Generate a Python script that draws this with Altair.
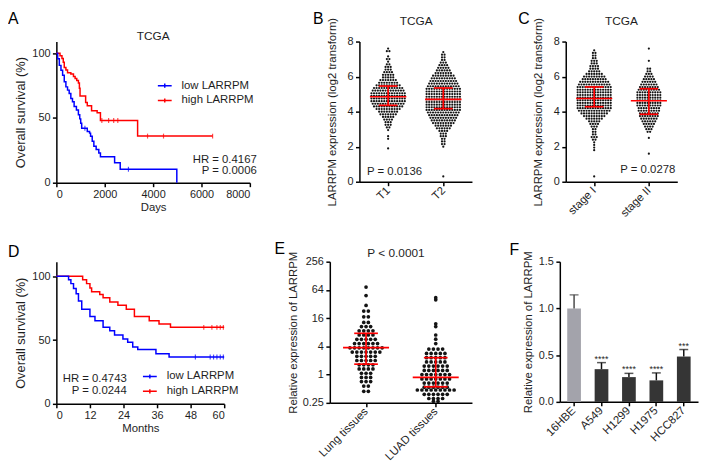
import altair as alt
import pandas as pd

FONT = "Liberation Sans"
TXT = "#1e1e1e"
BLUE = "#0000ff"
RED = "#ff0000"
DOT = "#141414"

groups = ["low LARRPM", "high LARRPM"]

# ---------------- Panel A : TCGA, days ----------------
a_low_days = [0, 54, 122, 190, 258, 326, 394, 462, 530, 598, 666, 734, 829, 911, 966,
              1006, 1047, 1278, 1373, 1414, 1482, 1550, 1645, 1754, 1822, 2408, 2640, 4980]
a_low_surv = [100, 95.7, 90.6, 86.8, 83.0, 77.9, 74.0, 71.5, 68.9, 65.0, 62.6, 58.8, 56.2, 52.4, 49.3,
              46.0, 42.1, 39.6, 38.3, 35.8, 32.0, 28.2, 25.6, 23.0, 20.0, 15.5, 10.4, 0]
a_low_cens_days = [1180, 2980]
a_low_cens_surv = [42.1, 10.4]
a_high_days = [0, 150, 231, 285, 326, 394, 462, 598, 707, 775, 843, 911, 952, 979, 1210,
               1278, 1455, 1686, 1822, 3359, 6460]
a_high_surv = [100, 98, 96, 93, 89, 87, 85, 84, 82, 80.5, 79, 77, 73, 67, 62,
               59.5, 55.5, 54, 48, 36, 36]
a_high_cens_days = [1880, 2160, 2370, 2540, 3770, 4430, 6460]
a_high_cens_surv = [48, 48, 48, 48, 36, 36, 36]
a_stats = ["HR = 0.4167", "P = 0.0006"]
a_xticks = [0, 2000, 4000, 6000, 8000]

# ---------------- Panel D : months ----------------
d_low_months = [0, 4.36, 5.19, 6.13, 7.07, 7.9, 9.07, 12.0, 13.8, 16.7, 19.1, 20.8, 23.8,
                25.5, 27.3, 29.1, 35.6, 40.3, 60]
d_low_surv = [100, 97.4, 94.3, 90.5, 86.3, 80.6, 74.2, 68.5, 65.1, 60.0, 57.4, 54.0, 50.9,
              48.4, 44.5, 42.6, 39.3, 36.7, 36.7]
d_low_cens_months = [49.7, 55.0, 56.2, 57.4, 58.6, 59.7]
d_low_cens_surv = [36.7, 36.7, 36.7, 36.7, 36.7, 36.7]
d_high_months = [0, 9.4, 10.8, 12.0, 12.6, 15.5, 16.7, 19.1, 22.0, 25.0, 27.9, 33.2, 36.7, 40.8, 60]
d_high_surv = [100, 97.4, 94.3, 90.9, 87.9, 85.8, 83.2, 79.9, 77.3, 74.2, 68.5, 65.1, 62.6, 60.0, 60.0]
d_high_cens_months = [52.7, 55.6, 57.4, 58.6, 59.7]
d_high_cens_surv = [60, 60, 60, 60, 60]
d_stats = ["HR = 0.4743", "P = 0.0244"]
d_xticks = [0, 12, 24, 36, 48, 60]

# ---------------- Panel B : T stage (log2 expression, value rows and counts) ----------------
b_cats = ["T1", "T2"]
b_t1_vals = [7.6, 7.45, 7.15, 7.0, 6.85, 6.7, 6.55, 6.4, 6.25, 6.1, 5.95, 5.8, 5.65, 5.5, 5.35, 5.2,
             5.05, 4.9, 4.75, 4.6, 4.45, 4.3, 4.15, 4.0, 3.85, 3.7, 3.55, 3.4, 3.25, 3.1, 2.95, 2.6, 2.45, 1.9]
b_t1_cnts = [1, 2, 1, 2, 1, 2, 3, 3, 4, 5, 5, 7, 8, 10, 12, 13,
             14, 14, 14, 14, 13, 12, 10, 8, 7, 5, 4, 3, 3, 2, 1, 1, 1, 1]
b_t2_vals = [7.4, 7.25, 7.1, 6.95, 6.8, 6.65, 6.5, 6.35, 6.2, 6.05, 5.9, 5.75, 5.6, 5.45, 5.3, 5.15,
             5.0, 4.85, 4.7, 4.55, 4.4, 4.25, 4.1, 3.95, 3.8, 3.65, 3.5, 3.35, 3.2, 3.05, 2.9, 2.75,
             2.6, 2.45, 2.3, 2.15, 2.0, 0.3]
b_t2_cnts = [1, 2, 2, 2, 3, 4, 5, 6, 7, 9, 10, 11, 12, 13, 14, 14,
             14, 14, 14, 14, 14, 14, 14, 13, 12, 11, 10, 9, 7, 6, 4, 3,
             3, 2, 2, 2, 1, 1]
b_median = [4.85, 4.70]
b_lower = [4.36, 4.17]
b_upper = [5.46, 5.35]

# ---------------- Panel C : stage ----------------
c_cats = ["stage I", "stage II"]
c_s1_vals = [7.5, 7.35, 7.2, 7.05, 6.9, 6.75, 6.6, 6.45, 6.3, 6.15, 6.0, 5.85, 5.7, 5.55, 5.4, 5.25,
             5.1, 4.95, 4.8, 4.65, 4.5, 4.35, 4.2, 4.05, 3.9, 3.75, 3.6, 3.45, 3.3, 3.15, 3.0, 2.85,
             2.7, 2.55, 2.4, 2.25, 2.1, 1.95, 1.8, 0.3]
c_s1_cnts = [1, 2, 2, 2, 3, 3, 4, 4, 5, 7, 9, 10, 12, 13, 14, 14,
             14, 14, 14, 14, 14, 14, 14, 13, 11, 9, 7, 5, 4, 3, 2, 2,
             2, 3, 2, 1, 1, 1, 1, 1]
c_s2_vals = [7.6, 6.9, 6.45, 6.3, 6.15, 6.0, 5.85, 5.7, 5.55, 5.4, 5.25, 5.1, 4.95, 4.8, 4.65, 4.5,
             4.35, 4.2, 4.05, 3.9, 3.75, 3.6, 3.45, 3.3, 3.15, 3.0, 2.85, 2.5, 1.6]
c_s2_cnts = [1, 1, 2, 2, 3, 4, 5, 6, 7, 8, 9, 10, 10, 10, 10, 10,
             10, 9, 9, 8, 8, 7, 6, 5, 4, 3, 2, 1, 1]
c_median = [4.75, 4.62]
c_lower = [4.28, 3.85]
c_upper = [5.41, 5.31]

# ---------------- Panel E : tissues (relative expression, rows and counts) ----------------
e_cats = ["Lung tissues", "LUAD tissues"]
e_lung_vals = [73.5, 48.5, 29.9, 22.6, 17.1, 13.0, 10.6, 8.6, 7.0, 5.66, 4.6, 3.73, 3.03, 2.46,
               2.0, 1.62, 1.32, 1.07, 0.87, 0.71, 0.57, 0.44]
e_lung_cnts = [1, 1, 1, 2, 2, 2, 3, 4, 4, 5, 6, 8, 7, 5, 5, 4, 4, 3, 3, 3, 2, 2]
e_luad_vals = [43.7, 39.4, 12.1, 10.6, 7.0, 5.7, 4.6, 3.5, 2.83, 2.3, 1.87, 1.52, 1.23, 1.0,
               0.81, 0.66, 0.54, 0.47, 0.38, 0.31, 0.27]
e_luad_cnts = [1, 1, 1, 1, 1, 1, 1, 4, 5, 5, 5, 6, 6, 7, 7, 6, 6, 9, 6, 4, 2]
e_median = [3.76, 0.87]
e_lower = [1.67, 0.55]
e_upper = [7.6, 2.3]

# ---------------- Panel F : cell lines ----------------
f_cells = ["16HBE", "A549", "H1299", "H1975", "HCC827"]
f_mean = [1.0, 0.35, 0.265, 0.23, 0.485]
f_sem = [0.145, 0.07, 0.04, 0.08, 0.075]
f_stars = ["", "****", "****", "****", "***"]


def panel_label(letter, dx, dy):
    return alt.Chart(pd.DataFrame({"lab": [letter]})).mark_text(
        font=FONT, fontSize=16, align="left", baseline="top", color="#000000"
    ).encode(text="lab:N", x=alt.value(dx), y=alt.value(dy))


def note(lines, dx, dy, align, size=11.5):
    return alt.Chart(pd.DataFrame({"txt": ["\n".join(lines)]})).mark_text(
        font=FONT, fontSize=size, align=align, baseline="alphabetic", lineBreak="\n",
        lineHeight=11.6, color=TXT
    ).encode(text="txt:N", x=alt.value(dx), y=alt.value(dy))


def km_panel(low_t, low_s, high_t, high_s, lct, lcs, hct, hcs, xmax, xticks, xtitle, ymax,
             w, h, legx, legy, stats, sx, sy, letter, lx, ly, title=None, tx=0, ty=0):
    lo = pd.DataFrame({"t": low_t, "s": low_s, "g": groups[0]})
    hi = pd.DataFrame({"t": high_t, "s": high_s, "g": groups[1]})
    xs = alt.Scale(domain=[0, xmax], nice=False, zero=False)
    ys = alt.Scale(domain=[0, ymax], nice=False)
    xa = alt.Axis(values=xticks, format="d", title=xtitle, grid=False, labelPadding=2,
                  titlePadding=2, titleFontSize=11.5)
    ya = alt.Axis(values=[0, 50, 100], title="Overall survival (%)", titleFontSize=13,
                  grid=False, titlePadding=4, labelPadding=2.5)
    cs = alt.Scale(domain=groups, range=[BLUE, RED])
    leg = alt.Legend(title=None, orient="none", legendX=legx, legendY=legy,
                     symbolType="M-1,0H1M0,-0.3V0.3", symbolSize=196, symbolStrokeWidth=1.5,
                     labelFont=FONT, labelFontSize=11.5, labelColor=TXT, labelOffset=9,
                     rowPadding=1, padding=0)

    def X(f):
        return alt.X(f, type="quantitative", scale=xs, axis=xa)

    def Y(f):
        return alt.Y(f, type="quantitative", scale=ys, axis=ya)

    l_hi = alt.Chart(hi).mark_line(interpolate="step-after", strokeWidth=1.5).encode(
        x=X("t"), y=Y("s"), color=alt.Color("g:N", scale=cs, legend=leg))
    l_lo = alt.Chart(lo).mark_line(interpolate="step-after", strokeWidth=1.5).encode(
        x=X("t"), y=Y("s"), color=alt.Color("g:N", scale=cs, legend=leg))
    c_hi = alt.Chart(pd.DataFrame({"t": hct, "s": hcs})).mark_tick(
        orient="vertical", size=5, thickness=1.2, color=RED).encode(x=X("t"), y=Y("s"))
    c_lo = alt.Chart(pd.DataFrame({"t": lct, "s": lcs})).mark_tick(
        orient="vertical", size=5, thickness=1.2, color=BLUE).encode(x=X("t"), y=Y("s"))
    layers = [l_hi, l_lo, c_hi, c_lo, note(stats, sx, sy, "right"), panel_label(letter, lx, ly)]
    if title:
        layers.append(note([title], tx, ty, "center", 12))
    return alt.layer(*layers).properties(width=w, height=h)


def swarm_points(vals_list, cnts_list, spacing):
    rows = []
    for i, (vals, cnts) in enumerate(zip(vals_list, cnts_list)):
        for v, c in zip(vals, cnts):
            for k in range(c):
                rows.append({"xp": i + (k - (c - 1) / 2) * spacing, "v": v})
    return pd.DataFrame(rows)


def swarm_panel(cats, vals_list, cnts_list, med, lo, hi, spacing, w, h, ys, yticks, yfmt,
                ytitle, tpad, psize, title, tx, ty, letter, lx, ly, ptext=None, px=0, py=0,
                palign="left"):
    pts = swarm_points(vals_list, cnts_list, spacing)
    xs = alt.Scale(domain=[-0.52, 1.52], nice=False, zero=False)
    lab_expr = "[" + ",".join("'%s'" % c for c in cats) + "][datum.value]"
    xa = alt.Axis(values=list(range(len(cats))), labelExpr=lab_expr, labelAngle=-45,
                  labelAlign="right", labelBaseline="middle", title=None, grid=False,
                  labelPadding=3, labelFontSize=11.5)
    ya = alt.Axis(values=yticks, format=yfmt, title=ytitle, titlePadding=tpad, grid=False,
                  titleFontSize=11.5, labelPadding=2.5)

    def X(f):
        return alt.X(f, type="quantitative", scale=xs, axis=xa)

    def Y(f):
        return alt.Y(f, type="quantitative", scale=ys, axis=ya)

    dots = alt.Chart(pts).mark_circle(size=psize, color=DOT, opacity=1).encode(x=X("xp"), y=Y("v"))
    summ = pd.DataFrame({"i": list(range(len(cats))), "med": med, "lo": lo, "hi": hi})
    sb = alt.Chart(summ).transform_calculate(
        m1="datum.i - 0.33", m2="datum.i + 0.33", c1="datum.i - 0.17", c2="datum.i + 0.17")
    medl = sb.mark_rule(color=RED, strokeWidth=1.7).encode(x=X("m1"), x2="m2:Q", y=Y("med"))
    upl = sb.mark_rule(color=RED, strokeWidth=1.7).encode(x=X("c1"), x2="c2:Q", y=Y("hi"))
    lol = sb.mark_rule(color=RED, strokeWidth=1.7).encode(x=X("c1"), x2="c2:Q", y=Y("lo"))
    vl = sb.mark_rule(color=RED, strokeWidth=1.7).encode(x=X("i"), y=Y("lo"), y2="hi:Q")
    layers = [dots, medl, upl, lol, vl, panel_label(letter, lx, ly),
              note([title], tx, ty, "center", 12)]
    if ptext:
        layers.append(note([ptext], px, py, palign))
    return alt.layer(*layers).properties(width=w, height=h)


A = km_panel(a_low_days, a_low_surv, a_high_days, a_high_surv, a_low_cens_days, a_low_cens_surv,
             a_high_cens_days, a_high_cens_surv, 8000, a_xticks, "Days", 109, 196, 143,
             101.8, 36.7, a_stats, 203, 122.7, "A", -49, -31, title="TCGA", tx=98, ty=-2)
D = km_panel(d_low_months, d_low_surv, d_high_months, d_high_surv, d_low_cens_months,
             d_low_cens_surv, d_high_cens_months, d_high_cens_surv, 60, d_xticks, "Months", 111.5,
             170, 144, 86.7, 108.3, d_stats, 71.3, 122, "D", -49, -18)

lin8 = alt.Scale(domain=[0, 8], nice=False)
B = swarm_panel(b_cats, [b_t1_vals, b_t2_vals], [b_t1_cnts, b_t2_cnts], b_median, b_lower,
                b_upper, 0.0465, 114, 142, lin8, [0, 2, 4, 6, 8], "d",
                "LARRPM expression (log2 transform)", 10, 5, "TCGA", 57.5, -17, "B", -47, -31,
                ptext="P = 0.0136", px=7.7, py=135, palign="left")
C = swarm_panel(c_cats, [c_s1_vals, c_s2_vals], [c_s1_cnts, c_s2_cnts], c_median, c_lower,
                c_upper, 0.0465, 113, 142, lin8, [0, 2, 4, 6, 8], "d",
                "LARRPM expression (log2 transform)", 10, 5, "TCGA", 56.5, -17, "C", -48, -31,
                ptext="P = 0.0278", px=111, py=132.7, palign="right")
logs = alt.Scale(type="log", base=2, domain=[0.25, 256], nice=False)
E = swarm_panel(e_cats, [e_lung_vals, e_luad_vals], [e_lung_cnts, e_luad_cnts], e_median, e_lower,
                e_upper, 0.066, 144, 143, logs, [0.25, 1, 4, 16, 64, 256], "~g",
                "Relative expression of LARRPM", 3.5, 14, "P < 0.0001", 67, -5, "E", -56, -21)

# Panel F
fdf = pd.DataFrame({"cell": f_cells, "mean": f_mean, "sem": f_sem, "star": f_stars})
fx = alt.X("cell:N", sort=f_cells,
           scale=alt.Scale(paddingInner=0.5, paddingOuter=0.27),
           axis=alt.Axis(title=None, labelAngle=-45, labelAlign="right", labelBaseline="middle",
                         labelPadding=3, grid=False, labelFontSize=11.5))
fys = alt.Scale(domain=[0, 1.5], nice=False)
fya = alt.Axis(values=[0, 0.5, 1.0, 1.5], format=".1f", title="Relative expression of LARRPM",
               titlePadding=5, grid=False, titleFontSize=11.5, labelPadding=2.5)
fbase = alt.Chart(fdf).transform_calculate(top="datum.mean + datum.sem")
fbars = fbase.mark_bar().encode(
    x=fx, y=alt.Y("mean:Q", scale=fys, axis=fya),
    color=alt.Color("cell:N", scale=alt.Scale(domain=f_cells,
                    range=["#a3a3ab", "#353535", "#353535", "#353535", "#353535"]), legend=None))
ecol = alt.condition(alt.datum.cell == f_cells[0], alt.value("#4a4a4a"), alt.value("#111111"))
ferr = fbase.mark_rule(strokeWidth=1.5).encode(
    x=fx, y=alt.Y("mean:Q", scale=fys, axis=fya), y2="top:Q", color=ecol)
fcap = fbase.mark_tick(orient="horizontal", size=9, thickness=1.5).encode(
    x=fx, y=alt.Y("top:Q", scale=fys, axis=fya), color=ecol)
fstar = fbase.mark_text(font=FONT, fontSize=9, baseline="alphabetic", dy=-1, color=TXT).encode(
    x=fx, y=alt.Y("top:Q", scale=fys, axis=fya), text="star:N")
F = alt.layer(fbars, ferr, fcap, fstar, panel_label("F", -51, -20)).properties(width=140, height=142)

ind = dict(x="independent", y="independent", color="independent")
row1 = alt.hconcat(A, alt.hconcat(B, C, spacing=95, bounds="flush").resolve_scale(**ind),
                   spacing=111, bounds="flush").resolve_scale(**ind)
row2 = alt.hconcat(D, alt.hconcat(E, F, spacing=89, bounds="flush").resolve_scale(**ind),
                   spacing=107, bounds="flush").resolve_scale(**ind)
chart = alt.vconcat(row1, row2, spacing=223, bounds="flush").resolve_scale(**ind).properties(
    padding={"left": 0, "top": 0, "right": 2, "bottom": 2}, background="white"
).configure_view(stroke=None).configure_axis(
    domainColor="#000000", domainWidth=1.5, tickColor="#000000", tickWidth=1.5, tickSize=4,
    labelFont=FONT, labelFontSize=11, labelColor=TXT, titleFont=FONT, titleFontWeight="normal",
    titleColor=TXT, grid=False
).configure_text(font=FONT)

chart.save("out.html", embed_options={"renderer": "svg", "actions": False})
